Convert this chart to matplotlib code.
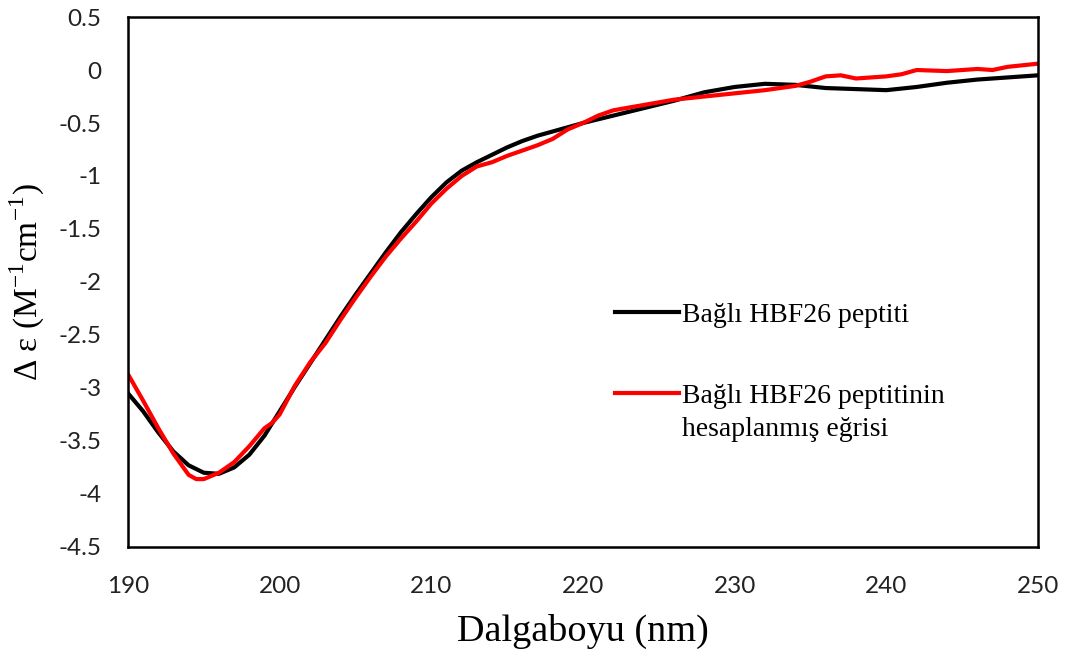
import numpy as np
import matplotlib
matplotlib.use("Agg")
import matplotlib.pyplot as plt

# wavelengths (nm) and delta epsilon values
wl_black = [190, 191, 192, 193, 194, 195, 196, 197, 198, 199, 200, 201, 202, 203, 204,
            205, 206, 207, 208, 209, 210, 211, 212, 213, 214, 215, 216, 217, 218, 219,
            220, 222, 224, 226, 228, 230, 232, 234, 236, 238, 240, 242, 244, 246, 248, 250]
de_black = [-3.05, -3.22, -3.42, -3.6, -3.73, -3.8, -3.81, -3.75, -3.63, -3.45, -3.22,
            -2.99, -2.77, -2.55, -2.33, -2.12, -1.92, -1.72, -1.53, -1.36, -1.2, -1.06,
            -0.95, -0.87, -0.8, -0.73, -0.67, -0.62, -0.58, -0.54, -0.5, -0.43, -0.36,
            -0.29, -0.21, -0.16, -0.13, -0.14, -0.17, -0.18, -0.19, -0.16, -0.12, -0.09,
            -0.07, -0.05]

wl_red = [190, 191, 192, 193, 194, 194.5, 195, 196, 197, 198, 199, 199.5, 200, 201, 202,
          203, 204, 205, 206, 207, 208, 209, 210, 211, 212, 213, 214, 215, 216, 217, 218,
          219, 220, 221, 222, 224, 226, 228, 230, 232, 234, 235, 236, 237, 238, 240, 241,
          242, 244, 245, 246, 247, 248, 250]
de_red = [-2.87, -3.12, -3.38, -3.62, -3.82, -3.86, -3.86, -3.8, -3.7, -3.55, -3.38,
          -3.33, -3.25, -2.98, -2.76, -2.58, -2.36, -2.15, -1.95, -1.76, -1.59, -1.43,
          -1.26, -1.12, -1.0, -0.91, -0.87, -0.81, -0.76, -0.71, -0.65, -0.56, -0.5,
          -0.43, -0.38, -0.33, -0.28, -0.25, -0.22, -0.19, -0.15, -0.11, -0.06, -0.05,
          -0.08, -0.06, -0.04, 0.0, -0.01, 0.0, 0.01, 0.0, 0.03, 0.06]

labels = ["Bağlı HBF26 peptiti", "Bağlı HBF26 peptitinin"]
label_extra = "hesaplanmış eğrisi"

fig = plt.figure(figsize=(10.7, 6.55), dpi=100)
ax = fig.add_axes([0.1196, 0.165, 0.8505, 0.809])

ax.plot(wl_black, de_black, color="black", lw=3, solid_joinstyle="round", label=labels[0])
ax.plot(wl_red, de_red, color="red", lw=3, solid_joinstyle="round", label=labels[1])

ax.set_xlim(190, 250)
ax.set_ylim(-4.5, 0.5)
ax.set_xticks(np.arange(190, 251, 10))
yt = np.arange(-4.5, 0.51, 0.5)
ax.set_yticks(yt)
ax.set_yticklabels(["%g" % v for v in yt])
ax.tick_params(length=0, labelsize=17.5, colors="#222222")
ax.tick_params(axis="x", pad=21)
ax.tick_params(axis="y", pad=19)
for lab in ax.get_xticklabels() + ax.get_yticklabels():
    lab.set_family("Lato")
for sp in ax.spines.values():
    sp.set_linewidth(1.8)

ax.set_xlabel("Dalgaboyu (nm)", family="Liberation Serif", fontsize=27.5)
ax.set_ylabel("Δ ε (M$^{\\mathregular{-1}}$cm$^{\\mathregular{-1}}$)", family="Liberation Serif",
              fontsize=24)
ax.xaxis.set_label_coords(0.5, -0.126)
ax.yaxis.set_label_coords(-0.089, 0.5)

leg = ax.legend(loc="upper left", bbox_to_anchor=(0.535, 0.462), frameon=False,
                prop={"family": "Liberation Serif", "size": 20}, handlelength=2.3,
                handletextpad=0.12, labelspacing=2.0, borderpad=0, borderaxespad=0)
# second line of the red label, hung under the legend text so the handle stays on line 1
ax.annotate(label_extra, xy=(0, 0), xycoords=leg.get_texts()[1], xytext=(0, -6),
            textcoords="offset points", va="top", ha="left", zorder=10,
            family="Liberation Serif", fontsize=20)

fig.savefig("out.png", dpi=100)
